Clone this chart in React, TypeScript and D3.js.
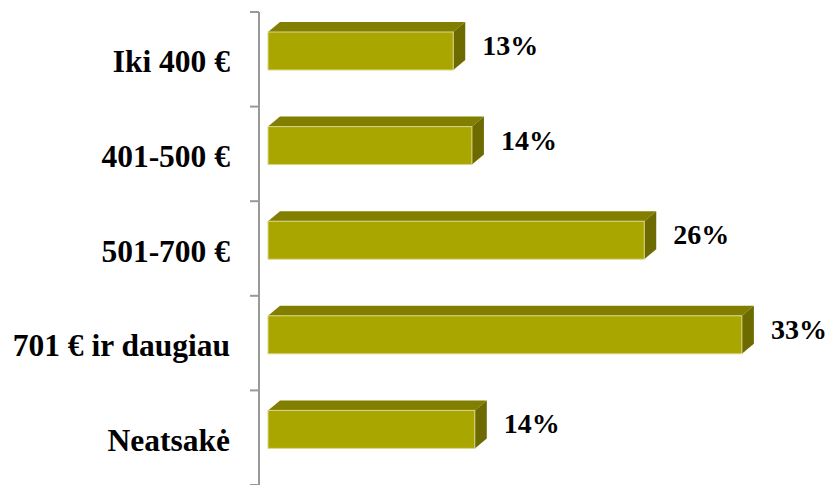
import React from "react";
import * as d3 from "d3";

const categories = ["Iki 400 €", "401-500 €", "501-700 €", "701 € ir daugiau", "Neatsakė"];
const values = [12.9, 14.2, 26.2, 33.0, 14.4];
const valueLabels = ["13%", "14%", "26%", "33%", "14%"];

const W = 832;
const H = 485;

export default function App() {
  const y = d3.scaleBand<string>().domain(categories).range([12, 485]).padding(0);
  const x = d3.scaleLinear().domain([0, 35]).range([268, 770.6]);
  const axisX = 259;
  const dx = 12;
  const dy = 10;
  const barH = 38;
  const font = "'Liberation Serif', 'Times New Roman', serif";
  const ticks = [...categories.map((c) => y(c) as number), 485];

  return (
    <div style={{ position: "fixed", left: 0, top: 0 }}>
      <svg width={W} height={H} style={{ display: "block", background: "#fff" }}>
        {categories.map((c, i) => {
          const b = y(c) as number;
          const x0 = x(0);
          const x1 = x(values[i]);
          const top = b + 20;
          const bot = top + barH;
          return (
            <g key={c}>
              <polygon
                points={`${x0},${top} ${x0 + dx},${top - dy} ${x1 + dx},${top - dy} ${x1},${top}`}
                fill="#827F00"
              />
              <polygon
                points={`${x1},${top} ${x1 + dx},${top - dy} ${x1 + dx},${bot - dy} ${x1},${bot}`}
                fill="#6D6A00"
              />
              <rect
                x={x0}
                y={top}
                width={x1 - x0}
                height={barH}
                fill="#AAA600"
                stroke="#DAD68C"
                strokeWidth={1}
              />
              <text
                x={x1 + 29}
                y={b + 43}
                fontFamily={font}
                fontWeight="bold"
                fontSize={28}
                fill="#000"
              >
                {valueLabels[i]}
              </text>
              <text
                x={230}
                y={b + y.bandwidth() / 2 + 13}
                textAnchor="end"
                fontFamily={font}
                fontWeight="bold"
                fontSize={31.5}
                fill="#000"
              >
                {c}
              </text>
            </g>
          );
        })}
        <line x1={axisX} x2={axisX} y1={12} y2={485} stroke="#999999" strokeWidth={2} />
        {ticks.map((t, i) => (
          <line key={i} x1={250} x2={axisX} y1={t} y2={t} stroke="#999999" strokeWidth={2} />
        ))}
      </svg>
    </div>
  );
}
